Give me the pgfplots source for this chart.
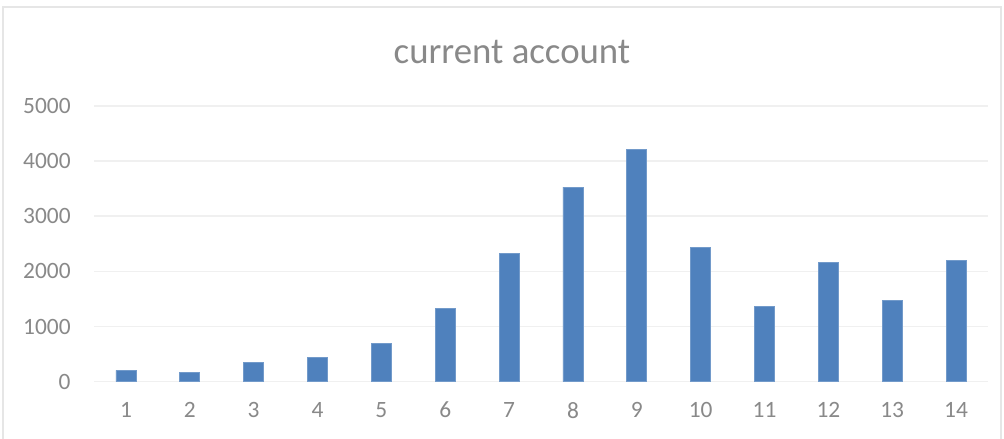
\documentclass[border=0pt]{standalone}
\usepackage{fontspec}
\setmainfont{Carlito}
\usepackage{pgfplots}
\pgfplotsset{compat=1.18}
\definecolor{barblue}{HTML}{4F81BD}
\definecolor{txtgray}{HTML}{898989}
\definecolor{gridgray}{HTML}{F0F0F0}
\definecolor{framegray}{HTML}{E6E6E6}
\begin{document}
\begin{tikzpicture}[x=1pt,y=1pt]
\useasboundingbox (0,0) rectangle (502,219);
\fill[white] (0,0) rectangle (502,219);
\begin{scope}
\clip (0,0) rectangle (502,219);
\draw[framegray, line width=0.6pt] (1.5,-5) rectangle (500.5,215.5);
\end{scope}
\node[txtgray, font=\fontsize{18.4pt}{22pt}\selectfont] at (256,193) {current account};
\begin{axis}[
  at={(47pt,28.15pt)}, anchor=origin,
  scale only axis, width=447pt, height=138pt,
  xmin=0.5, xmax=14.5, ymin=0, ymax=5000,
  ybar, bar width=10pt,
  xtick={1,...,14}, ytick={0,1000,...,5000},
  axis line style={draw=none},
  major tick length=0pt,
  ymajorgrids, grid style={gridgray, line width=0.8pt},
  /pgf/number format/assume math mode=true,
  /pgf/number format/1000 sep={},
  tick label style={txtgray, font=\fontsize{11.7pt}{14pt}\selectfont, inner sep=0pt},
  yticklabel style={anchor=east, xshift=-11.5pt},
  xticklabel style={anchor=north, yshift=-10pt},
]
\addplot[fill=barblue, draw=barblue!80!white, line width=0.4pt] coordinates {
(1,205) (2,175) (3,356) (4,435) (5,694) (6,1329) (7,2319)
(8,3527) (9,4203) (10,2434) (11,1365) (12,2156) (13,1480) (14,2198)
};
\end{axis}
\end{tikzpicture}
\end{document}
